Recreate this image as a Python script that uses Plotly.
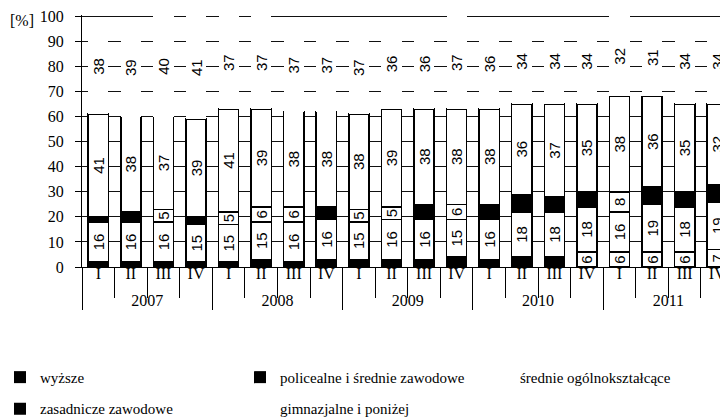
import plotly.graph_objects as go

years = ["2007"] * 4 + ["2008"] * 4 + ["2009"] * 4 + ["2010"] * 4 + ["2011"] * 4
quarters = ["I", "II", "III", "IV"] * 5

wyzsze = [2, 2, 2, 2, 2, 3, 2, 3, 3, 3, 3, 4, 3, 4, 4, 6, 6, 6, 6, 7]
policealne = [16, 16, 16, 15, 15, 15, 16, 16, 15, 16, 16, 15, 16, 18, 18, 18, 16, 19, 18, 19]
srednie_ogolne = [2, 4, 5, 3, 5, 6, 6, 5, 5, 5, 6, 6, 6, 7, 6, 6, 8, 7, 6, 7]
zasadnicze = [41, 38, 37, 39, 41, 39, 38, 38, 38, 39, 38, 38, 38, 36, 37, 35, 38, 36, 35, 32]
gimnazjalne = [38, 39, 40, 41, 37, 37, 37, 37, 37, 36, 36, 37, 36, 34, 34, 34, 32, 31, 34, 34]

names = ["wyższe", "policealne i średnie zawodowe", "średnie ogólnokształcące",
         "zasadnicze zawodowe", "gimnazjalne i poniżej"]

# styles (kept separate from data)
s_fill = ["black", "black", "white", "black", "white", "white", "white", "black",
          "white", "white", "black", "white", "black", "black", "black", "black",
          "white", "black", "black", "black"]
w_fill = ["white" if v >= 6 else "black" for v in wyzsze]

x = [years, quarters]
TXT = dict(family="Liberation Sans, Arial, sans-serif", size=15, color="black")

fig = go.Figure()

def add(vals, fill, lw, name):
    fig.add_trace(go.Bar(
        x=x, y=vals, name=name, showlegend=False,
        marker=dict(color=fill, line=dict(color="black", width=lw)),
        text=[str(v) for v in vals], textposition="inside",
        insidetextanchor="middle", textangle=-90, textfont=TXT,
        constraintext="none", hoverinfo="skip",
    ))

add(wyzsze, w_fill, 1.5, names[0])
add(policealne, "white", 1.5, names[1])
add(srednie_ogolne, s_fill, 1.5, names[2])
add(zasadnicze, "white", 1.5, names[3])
add(gimnazjalne, "white", 0, names[4])

# legend entries (zero-height, invisible bars)
leg_fill = ["black", "black", "white", "black", "white"]
for i, n in enumerate(names):
    fig.add_trace(go.Bar(
        x=[[years[0]], [quarters[0]]], y=[0], name=n, showlegend=True,
        marker=dict(color=leg_fill[i], line=dict(width=0)),
        legend="legend" if i < 3 else "legend2", hoverinfo="skip",
    ))

SERIF = dict(family="Liberation Serif, Times New Roman, serif", size=16, color="black")
LEGF = dict(family="Liberation Serif, Times New Roman, serif", size=15, color="black")

# page body has an 8px default margin: the figure is sized to compensate
PW = 646
fig.update_layout(
    width=720, height=409,
    margin=dict(l=74, r=0, t=7, b=150, autoexpand=False),
    plot_bgcolor="white", paper_bgcolor="white",
    barmode="stack", bargap=0.38,
    font=SERIF,
    xaxis=dict(
        type="multicategory", range=[-0.5, 19.33],
        showline=True, linecolor="black", linewidth=1,
        ticks="outside", tickson="boundaries", ticklen=30, tickcolor="black",
        ticklabelstandoff=-8,
        showdividers=True, dividercolor="black", dividerwidth=1,
        tickfont=SERIF, showgrid=False,
    ),
    yaxis=dict(
        range=[0, 100.5], tick0=0, dtick=10, showgrid=True, gridcolor="#111", gridwidth=1,
        showline=True, linecolor="black", linewidth=1,
        ticks="outside", ticklen=6, tickcolor="black", tickfont=SERIF,
        ticklabelstandoff=8, zeroline=False, ticklabeloverflow="allow",
    ),
    legend=dict(
        orientation="h", x=-82 / PW, xanchor="left", y=-0.438, yanchor="middle",
        entrywidth=195, entrywidthmode="pixels", font=LEGF, traceorder="normal",
        bgcolor="rgba(0,0,0,0)", itemclick=False,
    ),
    legend2=dict(
        orientation="h", x=-82 / PW, xanchor="left", y=-0.563, yanchor="middle",
        entrywidth=195, entrywidthmode="pixels", font=LEGF, traceorder="normal",
        bgcolor="rgba(0,0,0,0)", itemclick=False,
    ),
    annotations=[dict(
        text="[%]", xref="paper", yref="y", x=-74 / PW, y=98.3,
        xanchor="left", yanchor="middle", showarrow=False, font=SERIF,
    )],
)

fig.write_html("out.html")
